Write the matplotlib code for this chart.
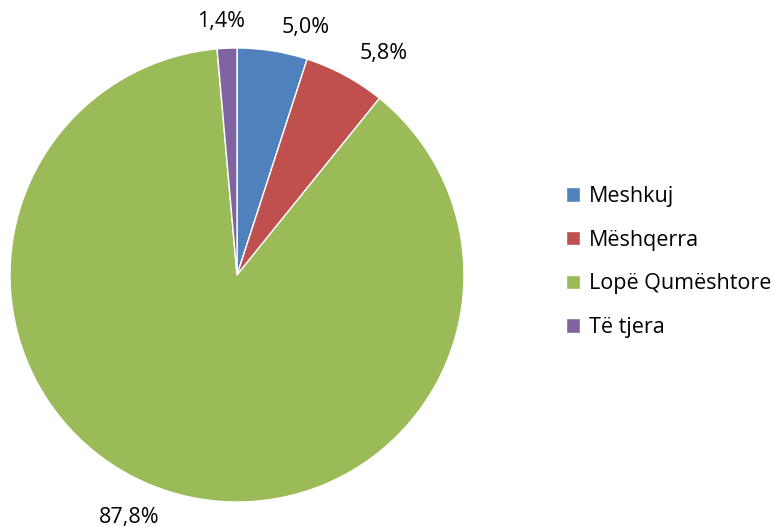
import matplotlib.pyplot as plt
import numpy as np

# shares of the herd (%)
categories = ['Meshkuj', 'Mëshqerra', 'Lopë Qumështore', 'Të tjera']
values = [5.0, 5.8, 87.8, 1.4]
colors = ['#4F81BD', '#C0504D', '#9BBB59', '#8064A2']
# small nudges so labels sit like the original (degrees, radius)
label_shift = [-6.5, -5.0, -7.0, 1.0]
label_rad = [1.13, 1.17, 1.17, 1.12]

plt.rcParams['font.family'] = ['Open Sans', 'DejaVu Sans']

fig = plt.figure(figsize=(7.76, 5.27), dpi=100)
ax = fig.add_axes([10/776, 25/527, 454/776, 454/527])

wedges, _ = ax.pie(values, colors=colors, startangle=90, counterclock=False,
                   radius=1, wedgeprops=dict(edgecolor='white', linewidth=1))
ax.set_xlim(-1, 1)
ax.set_ylim(-1, 1)
ax.set_aspect('equal')

for w, v, s, r in zip(wedges, values, label_shift, label_rad):
    mid = np.deg2rad((w.theta1 + w.theta2) / 2 + s)
    txt = ('%.1f%%' % v).replace('.', ',')
    ax.text(r*np.cos(mid), r*np.sin(mid), txt, ha='center', va='center',
            fontsize=15.5, color='black', clip_on=False)

leg = fig.legend(wedges, categories, loc='center left',
                 bbox_to_anchor=(547/776, 265/527), frameon=False,
                 fontsize=15.5, handlelength=0.65, handleheight=0.65,
                 labelspacing=1.05, handletextpad=0.4)

fig.savefig('out.png', dpi=100)
